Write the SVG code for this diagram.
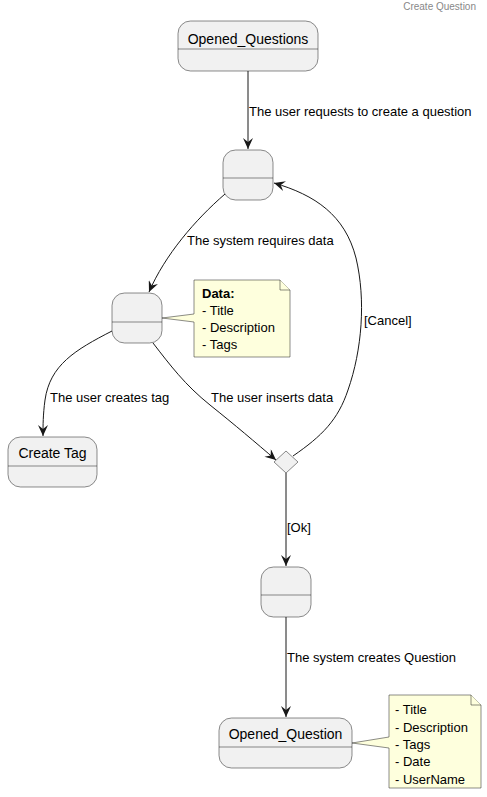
<svg xmlns="http://www.w3.org/2000/svg" width="487" height="797" viewBox="0 0 487 797">
<style>
text{font-family:"Liberation Sans",Arial,sans-serif;fill:#000}
.st{fill:#F1F1F1;stroke:#181818;stroke-width:0.5}
.sep{stroke:#181818;stroke-width:0.5}
.nm{font-size:14px;text-anchor:middle}
.lb{font-size:13px}
.ed{fill:none;stroke:#181818;stroke-width:1}
.note{fill:#FEFFDD;stroke:#181818;stroke-width:0.5}
.nt{font-size:13px}
</style>
<defs>
<marker id="ah" viewBox="0 0 12 10" refX="11" refY="5" markerWidth="12" markerHeight="10" markerUnits="userSpaceOnUse" orient="auto">
<path d="M0,0 L11,5 L0,10 L4,5 Z" fill="#181818"/>
</marker>
</defs>
<rect width="487" height="797" fill="#fff"/>
<text x="476" y="10" font-size="10" text-anchor="end" style="fill:#888">Create Question</text>

<g id="connectors">
<path class="ed" d="M248,71 L248,149" marker-end="url(#ah)"/>
<path class="ed" d="M225,194 C195,220 165,255 149,292" marker-end="url(#ah)"/>
<path class="ed" d="M112,331 C75,350 50,365 45,400 C43,415 43,425 43,436" marker-end="url(#ah)"/>
<path class="ed" d="M153,343 C170,365 185,385 210,405 C235,425 255,442 276,460" marker-end="url(#ah)"/>
<path class="ed" d="M293,456 C322,436 338,420 348,390 C362,350 366,300 356,258 C345,215 315,195 274,183" marker-end="url(#ah)"/>
<path class="ed" d="M286,473 L286,566" marker-end="url(#ah)"/>
<path class="ed" d="M286,617 L286,717" marker-end="url(#ah)"/>
<text class="lb" x="249" y="116">The user requests to create a question</text>
<text class="lb" x="187" y="245">The system requires data</text>
<text class="lb" x="50" y="402">The user creates tag</text>
<text class="lb" x="211" y="402">The user inserts data</text>
<text class="lb" x="364" y="325">[Cancel]</text>
<text class="lb" x="287" y="532">[Ok]</text>
<text class="lb" x="287" y="662">The system creates Question</text>
</g>

<g id="opened_questions">
<rect class="st" x="178" y="21" width="140" height="50" rx="12.5"/>
<line class="sep" x1="178" y1="49" x2="318" y2="49"/>
<text class="nm" x="248" y="44">Opened_Questions</text>
</g>

<g id="state1">
<rect class="st" x="223" y="150" width="50" height="50" rx="12.5"/>
<line class="sep" x1="223" y1="178" x2="273" y2="178"/>
</g>

<g id="state2">
<rect class="st" x="112" y="293" width="50" height="50" rx="12.5"/>
<line class="sep" x1="112" y1="322" x2="162" y2="322"/>
</g>

<g id="note_data">
<path class="note" d="M194,280 L280,280 L290,290 L290,357 L194,357 L194,322 L162,318 L194,314 Z"/>
<path class="note" d="M280,280 L280,290 L290,290"/>
<text class="nt" x="202" y="298" font-weight="bold">Data:</text>
<text class="nt" x="202" y="315">- Title</text>
<text class="nt" x="202" y="332">- Description</text>
<text class="nt" x="202" y="349">- Tags</text>
</g>

<g id="create_tag">
<rect class="st" x="8" y="437" width="89" height="50" rx="12.5"/>
<line class="sep" x1="8" y1="466" x2="97" y2="466"/>
<text class="nm" x="52.5" y="458">Create Tag</text>
</g>

<g id="choice">
<path class="st" d="M286,451 L298,462 L286,473 L274,462 Z"/>
</g>

<g id="state3">
<rect class="st" x="261" y="567" width="50" height="50" rx="12.5"/>
<line class="sep" x1="261" y1="595" x2="311" y2="595"/>
</g>

<g id="opened_question">
<rect class="st" x="219" y="718" width="133" height="50" rx="12.5"/>
<line class="sep" x1="219" y1="747" x2="352" y2="747"/>
<text class="nm" x="285.5" y="739">Opened_Question</text>
</g>

<g id="note_question">
<path class="note" d="M389,695 L471,695 L481,705 L481,788 L389,788 L389,748 L352,743 L389,737 Z"/>
<path class="note" d="M471,695 L471,705 L481,705"/>
<text class="nt" x="395" y="714">- Title</text>
<text class="nt" x="395" y="732">- Description</text>
<text class="nt" x="395" y="749">- Tags</text>
<text class="nt" x="395" y="766">- Date</text>
<text class="nt" x="395" y="784">- UserName</text>
</g>
</svg>
